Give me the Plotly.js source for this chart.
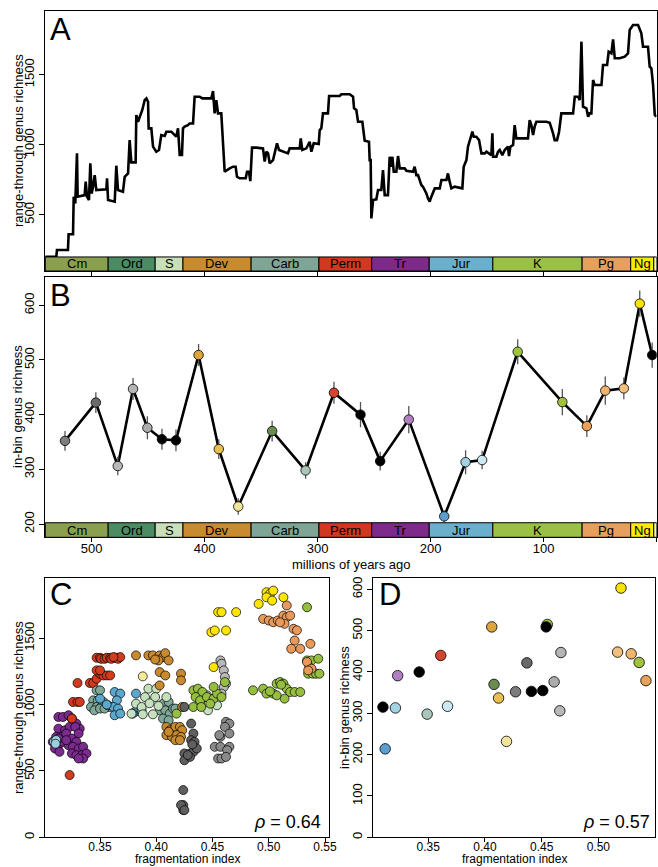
<!DOCTYPE html>
<html>
<head>
<meta charset="utf-8">
<script src="https://cdn.plot.ly/plotly-3.0.1.min.js"></script>
<style>
html,body{margin:0;padding:0;background:#fff;}
#chart{width:658px;height:867px;}
</style>
</head>
<body>
<div id="chart"></div>
<script>
// ---------- Geological periods ----------
const geoNames  = ['Cm','Ord','S','Dev','Carb','Perm','Tr','Jur','K','Pg','Ng',''];
const geoStart  = [541,485.4,443.8,419.2,358.9,298.9,252.2,201.3,145,66,23,2.6];
const geoEnd    = [485.4,443.8,419.2,358.9,298.9,252.2,201.3,145,66,23,2.6,0];
const geoColors = ['#8BA04F','#4B8C63','#C8DFB9','#C88B2F','#7EA595','#D0381F','#7D2A8A','#6AB0CC','#9AC145','#E6A05D','#FFEA00','#FFF6A8'];

// ---------- Panel A: range-through genus richness ----------
const ageA = [541.0,531.3,530.7,521.0,520.4,516.5,515.9,514.5,513.0,512.4,506.2,505.3,504.1,502.4,501.2,500.0,498.8,497.3,495.9,494.4,487.0,486.4,485.5,479.6,478.2,476.7,472.3,470.8,467.8,466.4,464.9,461.1,460.5,459.0,457.5,455.2,453.1,451.6,450.1,449.6,447.2,445.7,442.8,440.4,438.4,435.4,433.9,429.5,426.5,425.1,423.6,422.1,420.1,419.2,417.7,414.8,413.3,410.3,408.9,404.4,402.1,394.1,392.6,391.2,389.7,388.2,385.3,382.3,377.9,374.9,372.6,371.4,369.0,363.7,362.5,360.8,359.6,358.1,354.3,348.4,346.9,345.4,343.9,342.5,339.5,338.0,336.0,334.2,329.2,326.3,324.8,315.9,315.0,313.6,310.0,307.1,305.6,303.5,299.1,298.2,296.8,295.3,290.9,289.9,280.5,279.0,271.7,268.7,267.8,265.8,264.3,260.5,258.4,254.6,254.0,253.1,252.5,251.0,248.1,246.6,243.7,242.2,240.7,237.8,236.3,234.8,233.9,232.7,230.4,228.9,227.4,223.0,221.5,215.6,214.2,212.7,211.2,208.3,206.8,203.8,202.4,200.9,199.4,196.4,192.0,190.5,186.1,184.7,183.2,181.7,178.8,172.0,170.8,168.4,167.0,163.1,161.9,159.6,157.2,155.1,152.2,150.7,146.3,145.4,144.8,141.9,140.4,138.9,136.6,134.5,131.6,130.7,129.5,127.1,125.7,124.2,113.9,112.4,110.9,109.4,108.0,106.5,97.6,94.7,91.7,90.3,88.2,86.4,84.4,74.0,72.5,69.6,68.1,66.6,65.2,62.2,60.7,59.3,57.8,56.3,54.8,48.9,47.5,43.9,42.5,40.1,38.6,37.1,32.7,28.3,25.4,23.9,20.9,16.5,15.0,13.6,12.1,7.7,6.2,4.7,3.2,1.7,0.3];
const richA = [200,200,248,248,360,360,629,581,938,629,640,736,629,605,867,652,700,783,676,676,681,760,605,593,850,676,664,771,795,1033,874,874,1212,1164,1200,1248,1319,1331,1307,1117,1117,986,950,962,1069,1062,1093,1093,1069,1057,1117,926,926,1117,1129,1140,1152,1152,1343,1343,1331,1331,1383,1224,1319,1224,1224,807,831,843,843,771,760,760,807,807,740,979,979,974,879,950,938,867,890,938,1010,962,950,938,974,974,1045,962,974,1021,950,1010,1005,1105,1117,1224,1224,1348,1348,1360,1360,1343,1260,1248,1164,1164,1029,1021,890,890,474,605,610,676,676,819,640,640,914,843,914,807,807,919,831,831,814,807,843,783,783,712,700,652,617,593,629,688,688,748,748,795,736,688,700,688,843,890,986,1093,1057,1057,1033,938,938,950,926,1081,914,914,950,962,926,962,986,919,986,998,1140,1045,1045,1176,1140,1069,1129,1164,1164,1157,1081,1033,1033,1093,1224,1224,1343,1343,1319,1736,1271,1260,1200,1224,1224,1462,1426,1426,1569,1569,1664,1652,1752,1617,1617,1629,1652,1819,1855,1855,1824,1795,1700,1700,1557,1545,1426,1212,1200];

// ---------- Panel B / D: in-bin genus richness per bin ----------
const binAge  = [523.6,496.3,476.9,463.4,450.7,437.8,425.4,405.4,387.5,370.3,340.3,310.7,285.6,262.1,244.7,219.4,188.0,169.1,154.5,123.0,83.5,61.8,45.5,29.1,15.0,4.0];
const binRich = [352,422,306,447,376,355,353,509,337,232,370,298,440,400,315,391,214,313,317,515,423,379,444,448,603,509];
const binErr  = [18,19,17,20,21,19,20,20,18,15,19,15,20,23,17,25,11,22,17,23,24,20,26,20,24,23];
const binFrag = [0.427,0.437,0.466,0.467,0.461,0.451,0.441,0.406,0.412,0.419,0.408,0.349,0.361,0.342,0.310,0.323,0.312,0.321,0.367,0.455,0.536,0.542,0.529,0.517,0.520,0.454];
const binColors = ['#7c7c7c','#6a6a6a','#b8b8b8','#b5b5b5','#acacac','#000000','#000000','#dca63d','#e9c050','#f3e39a','#6b8c4f','#a9c6b8','#d2452e','#000000','#000000','#b080c0','#5a9fcf','#a3d3e2','#cce8f2','#9cc43c','#a2c13f','#e9a257','#f0b56d','#f2c07e','#f5e400','#000000'];

// ---------- Panel C: range-through richness vs fragmentation ----------
const cGroups = ['Tr','JurL','Perm','Carb','Jur','Sil','DevY','Dev','Cm','OrdD','OrdL','K','Pg','Ng'];
const cGroupColors = {Tr:'#7B2B8E',JurL:'#9BD0E0',Perm:'#D23B1E',Carb:'#7FA898',Jur:'#5BA8CC',Sil:'#C5E0BC',DevY:'#F5EA9A',Dev:'#C8892F',Cm:'#5f5f5f',OrdD:'#8a8a8a',OrdL:'#b9b9b9',K:'#97BF3F',Pg:'#E9995A',Ng:'#FFE600'};
const cFrag = [
 0.313,0.317,0.322,0.325,0.329,0.332,0.313,0.319,0.323,0.328,0.331,0.311,0.316,0.320,0.325,0.329,0.308,0.313,0.317,0.322,0.326,0.331,0.335,0.310,0.314,0.325,0.329,0.334,0.338,0.335,0.331,0.313,0.320,
 0.309,0.311,0.3105,
 0.323,0.325,0.326,0.330,0.332,0.330,0.341,0.344,0.347,0.350,0.353,0.356,0.359,0.347,0.350,0.347,0.350,0.351,0.354,0.356,0.359,0.360,0.363,0.365,0.366,0.368,0.362,
 0.347,0.350,0.344,0.348,0.353,0.342,0.347,0.351,0.356,0.359,0.345,0.350,0.406,0.411,0.403,0.408,0.412,0.406,0.411,0.415,0.417,0.354,0.357,
 0.363,0.368,0.365,0.362,0.366,0.363,0.368,0.382,0.381,0.387,0.379,0.350,0.356,
 0.393,0.400,0.390,0.399,0.409,0.382,0.387,0.378,0.388,0.397,0.439,0.443,0.446,0.454,0.394,0.402,
 0.388,
 0.382,0.393,0.397,0.403,0.406,0.408,0.411,0.402,0.399,0.403,0.408,0.403,0.422,0.422,0.409,0.412,0.417,0.421,0.423,0.409,0.414,0.418,0.422,0.417,0.421,0.423,0.411,
 0.425,0.431,0.433,0.431,0.434,0.425,0.430,0.433,0.436,0.425,0.430,0.424,0.424,0.424,0.422,0.425,0.428,0.432,
 0.462,0.465,0.461,0.465,0.457,0.452,0.457,0.465,0.463,0.455,0.458,0.462,0.456,
 0.457,0.458,0.460,0.461,0.462,0.460,0.458,0.448,0.445,
 0.433,0.437,0.441,0.435,0.439,0.445,0.451,0.454,0.458,0.451,0.461,0.433,0.440,0.448,0.418,0.486,0.495,0.498,0.504,0.507,0.510,0.513,0.516,0.519,0.523,0.528,0.514,0.507,0.534,0.538,0.544,0.535,0.539,0.542,0.545,0.536,0.534,0.511,0.501,
 0.495,0.500,0.504,0.508,0.513,0.516,0.519,0.514,0.516,0.522,0.523,0.520,0.528,0.537,0.534,0.538,0.535,0.510,0.525,
 0.449,0.452,0.462,0.455,0.458,0.471,0.451,0.491,0.498,0.501,0.504,0.498,0.503,0.513
];
const cRich = [
 907,907,920,895,857,819,819,807,832,832,782,757,757,782,744,719,719,694,719,694,682,669,682,669,644,632,619,619,632,594,594,744,732,
 720,733,705,
 469,895,1020,1020,1020,1163,1163,1163,1195,1233,1220,1220,1220,1258,1258,1353,1353,1345,1345,1353,1353,1345,1353,1353,1345,1358,1358,
 1108,1108,1032,1032,1020,982,982,982,982,982,957,970,1007,1020,957,957,932,895,882,970,970,970,995,
 1095,1083,1032,982,970,920,932,1083,945,957,932,1045,1000,
 1120,1120,1057,1057,1057,1007,982,932,927,927,1007,1057,957,995,1010,990,
 1213,
 1371,1371,1371,1371,1358,1388,1333,1333,1340,1245,1220,1145,1233,1183,832,807,832,832,807,770,757,770,757,732,732,982,795,
 982,857,782,732,719,632,632,644,669,581,606,356,243,205,243,205,620,700,
 870,857,832,782,757,682,682,682,657,594,594,606,770,
 1333,1308,1258,1208,1158,1133,1083,1040,1070,
 1108,1120,1095,1057,1032,1057,1045,1083,1057,1133,1170,982,982,1007,932,1108,1120,1083,1083,1158,1170,1158,1120,1095,1095,1095,1045,1070,1333,1333,1346,1233,1233,1233,1233,1283,1734,1150,1100,
 1646,1634,1621,1634,1671,1659,1671,1609,1747,1571,1483,1421,1421,1458,1321,1271,1258,1620,1560,
 1546,1559,1559,1697,1697,1697,1283,1759,1847,1834,1859,1809,1784,1809
];
const cGroupCounts = [33,3,27,23,13,16,1,27,18,13,9,39,19,14];
const cGroup = [];
cGroups.forEach((g,i)=>{ for(let k=0;k<cGroupCounts[i];k++) cGroup.push(g); });

// ---------- Build traces ----------
const FONT = 'Liberation Sans, Arial, sans-serif';
const traces = [];

traces.push({x: ageA, y: richA, xaxis:'x', yaxis:'y', type:'scatter', mode:'lines',
  line:{color:'#000', width:2.6}, hoverinfo:'skip', showlegend:false});

traces.push({x: binAge, y: binRich, xaxis:'x2', yaxis:'y2', type:'scatter', mode:'lines',
  line:{color:'#000', width:2.6}, showlegend:false});
traces.push({x: binAge, y: binRich, xaxis:'x2', yaxis:'y2', type:'scatter', mode:'markers',
  marker:{size:0.1, color:'rgba(0,0,0,0)'},
  error_y:{type:'data', array: binErr, visible:true, color:'#555', thickness:1.3, width:0}, showlegend:false});
traces.push({x: binAge, y: binRich, xaxis:'x2', yaxis:'y2', type:'scatter', mode:'markers',
  marker:{size:9.5, color: binColors, line:{color:'#000', width:0.8}}, showlegend:false});

cGroups.forEach(g=>{
  const xs=[], ys=[];
  cGroup.forEach((gg,i)=>{ if(gg===g){ xs.push(cFrag[i]); ys.push(cRich[i]); } });
  traces.push({x: xs, y: ys, xaxis:'x3', yaxis:'y3', type:'scatter', mode:'markers',
    marker:{size:9, color: cGroupColors[g], line:{color:'#000', width:0.7}}, showlegend:false, name:g});
});

traces.push({x: binFrag, y: binRich, xaxis:'x4', yaxis:'y4', type:'scatter', mode:'markers',
  marker:{size:10.5, color: binColors, line:{color:'#000', width:0.8}}, showlegend:false});

// ---------- Shapes & annotations for geological bars ----------
const shapes = [];
const annotations = [];
const geoFracA = 0.054, geoFracB = 0.056;
[['x','y domain',geoFracA],['x2','y2 domain',geoFracB]].forEach(([xr,yr,fr])=>{
  geoNames.forEach((n,i)=>{
    shapes.push({type:'rect', xref:xr, yref:yr, x0:geoStart[i], x1:geoEnd[i], y0:0, y1:fr,
      fillcolor:geoColors[i], line:{color:'#000', width:1}, layer:'above'});
    if(n){
      annotations.push({xref:xr, yref:yr, x:(geoStart[i]+geoEnd[i])/2, y:fr/2, text:n, showarrow:false,
        font:{family:FONT, size:13, color:'#000'}, xanchor:'center', yanchor:'middle'});
    }
  });
});

// Panel letters
[['A',48,10],['B',48,276],['C',48,575],['D',377,575]].forEach(([t,px,py])=>{
  annotations.push({xref:'paper', yref:'paper', x:px/658, y:1-py/867, text:t, showarrow:false,
    xanchor:'left', yanchor:'top', font:{family:FONT, size:31, color:'#000'}});
});
// Correlation labels
annotations.push({xref:'x3 domain', yref:'y3 domain', x:0.978, y:0.012, text:'<i>ρ</i> = 0.64', showarrow:false,
  xanchor:'right', yanchor:'bottom', font:{family:FONT, size:18, color:'#000'}});
annotations.push({xref:'x4 domain', yref:'y4 domain', x:0.988, y:0.012, text:'<i>ρ</i> = 0.57', showarrow:false,
  xanchor:'right', yanchor:'bottom', font:{family:FONT, size:18, color:'#000'}});

// Axis titles (placed as annotations for exact positioning)
const titleFont = {family:FONT, size:13, color:'#000'};
const titleFontSmall = {family:FONT, size:12, color:'#000'};
[['range-through genus richness',18,141,-90,'middle',titleFont],
 ['in-bin genus richness',18,407,-90,'middle',titleFont],
 ['range-through genus richness',18,708,-90,'middle',titleFont],
 ['in-bin genus richness',344,708,-90,'middle',titleFont],
 ['millions of years ago',351,564,0,'middle',titleFont],
 ['fragmentation index',187,867,0,'bottom',titleFontSmall],
 ['fragmentation index',514,867,0,'bottom',titleFontSmall]].forEach(([t,px,py,ang,ya,f])=>{
  annotations.push({xref:'paper', yref:'paper', x:px/658, y:1-py/867, text:t, showarrow:false,
    textangle:ang, xanchor:'center', yanchor:ya, borderpad:0, font:f});
});

// ---------- Axes ----------
const tickFont = {family:FONT, size:13, color:'#000'};
const tickFontSmall = {family:FONT, size:12, color:'#000'};
function ax(extra){
  return Object.assign({showline:true, linecolor:'#000', linewidth:1, mirror:true, showgrid:false, zeroline:false,
    ticks:'outside', ticklen:5, tickwidth:1, tickcolor:'#000', tickfont:tickFont, tickmode:'array', fixedrange:true}, extra);
}
const xA = [45/658, 656.7/658];
const layout = {
  width:658, height:867, margin:{l:0,r:0,t:0,b:0}, paper_bgcolor:'#fff', plot_bgcolor:'#fff',
  font:{family:FONT, color:'#000'}, showlegend:false,
  xaxis: ax({domain:xA, range:[541.3,0], anchor:'y', tickvals:[500,400,300,200,100,0], showticklabels:false}),
  yaxis: ax({domain:[1-271/867, 1-11/867], range:[98,1955], anchor:'x', tickvals:[500,1000,1500], tickangle:-90}),
  xaxis2: ax({domain:xA, range:[541.3,0], anchor:'y2', tickvals:[500,400,300,200,100,0], ticklen:4, ticklabelstandoff:-5}),
  yaxis2: ax({domain:[1-537.3/867, 1-277.3/867], range:[175.7,651.2], anchor:'x2', tickvals:[200,300,400,500,600], tickangle:-90}),
  xaxis3: ax({domain:[45/658, 329.3/658], range:[0.3011,0.5538], anchor:'y3', tickvals:[0.35,0.40,0.45,0.50,0.55],
    ticktext:['0.35','0.40','0.45','0.50','0.55'], ticklen:4, ticklabelstandoff:-6, tickfont:tickFontSmall}),
  yaxis3: ax({domain:[1-837.3/867, 1-578.3/867], range:[0,1952], anchor:'x3', tickvals:[0,500,1000,1500], tickangle:-90}),
  xaxis4: ax({domain:[373.3/658, 655/658], range:[0.3015,0.55], anchor:'y4', tickvals:[0.35,0.40,0.45,0.50],
    ticktext:['0.35','0.40','0.45','0.50'], ticklen:4, ticklabelstandoff:-6, tickfont:tickFontSmall}),
  yaxis4: ax({domain:[1-837.3/867, 1-578.3/867], range:[0,626.6], anchor:'x4', tickvals:[0,100,200,300,400,500,600], tickangle:-90}),
  shapes: shapes,
  annotations: annotations
};

Plotly.newPlot('chart', traces, layout, {staticPlot:true, displayModeBar:false});
</script>
</body>
</html>
